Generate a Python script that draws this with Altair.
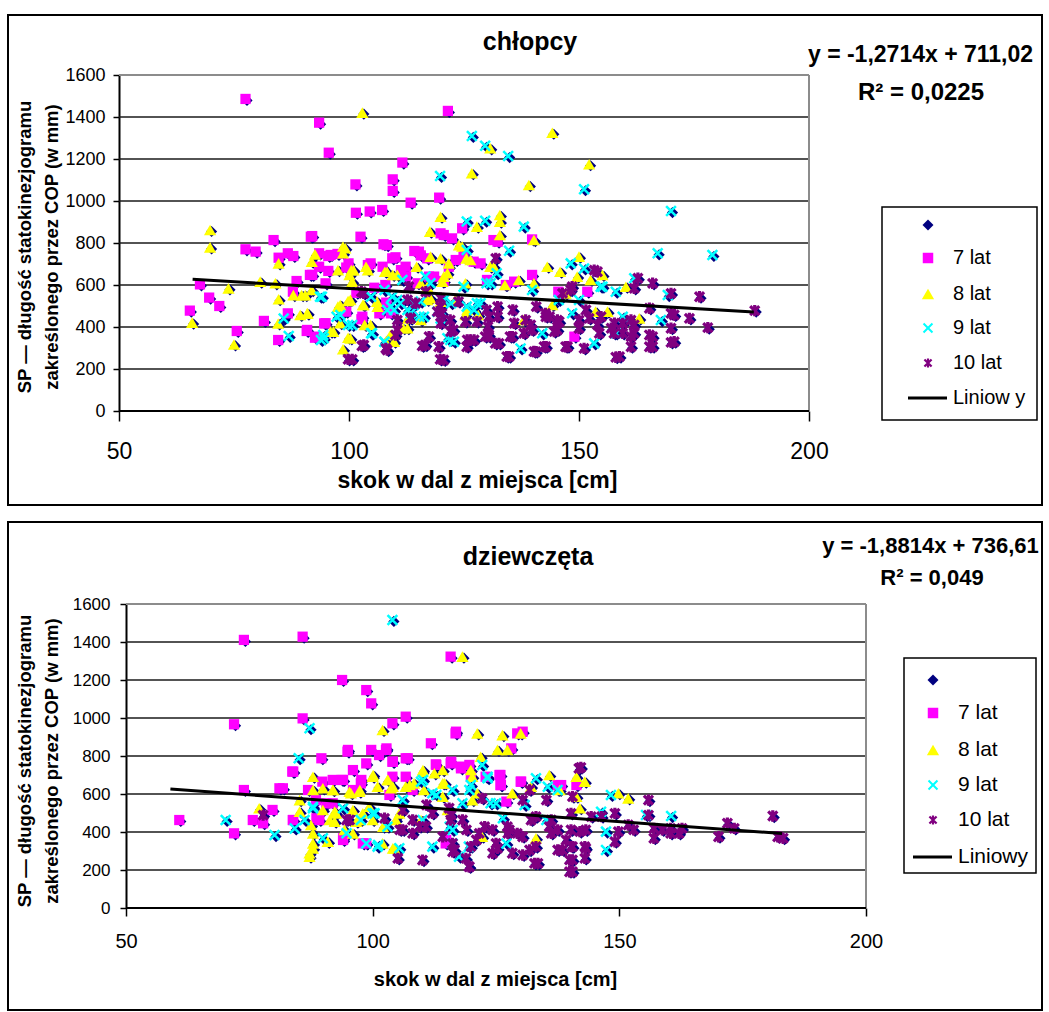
import altair as alt
import pandas as pd

FONT = "Liberation Sans"
NAVY = "#000080"
MAG = "#FF00FF"
YEL = "#FFFF00"
CYAN = "#00FFFF"
PURP = "#800080"
X_PATH = "M-1,-1L1,1M-1,1L1,-1"
AST_PATH = "M0,-1L0,1M-0.8,-0.8L0.8,0.8M-0.8,0.8L0.8,-0.8"

X_TICKS = [50, 100, 150, 200]
Y_TICKS = [0, 200, 400, 600, 800, 1000, 1200, 1400, 1600]
SERIES = ["7 lat", "8 lat", "9 lat", "10 lat"]

# ---------------- chłopcy ----------------
chl_7 = [(77.5,1486),(93.5,1373),(95.6,1230),(121.5,1429),(101.4,1079),(109.5,1103),(109.5,1048),(111.6,1183),(113.4,992),(119.6,1016),(101.5,944),(104.5,950),(107.2,957),(102.5,830),(91.7,830),(83.6,814),(77.5,770),(79.7,759),(84.7,730),(86.7,751),(87.9,738),(107.5,794),(109.4,727),(114.2,762),(115.6,741),(93.5,751),(95.5,738),(65.4,478),(67.6,603),(69.6,540),(71.8,500),(75.6,381),(81.5,429),(84.6,338),(86.7,465),(90.8,381),(92.6,349),(94.6,417),(91.5,648),(93.5,687),(88.6,619),(87.8,568),(95.5,667),(97.5,748),(99.4,683),(101.6,563),(104.1,695),(102.7,437),(105.5,587),(107.3,687),(108.1,516),(111.3,671),(112.4,640),(114.9,608),(117.0,727),(117.4,640),(120.6,619),(119.9,846),(122.4,822),(124.6,870),(124.9,735),(121.7,687),(127.1,711),(131.4,814),(130.0,624),(99.4,473),(106.6,465),(109.1,465),(139.8,817),(139.8,648),(145.5,568),(151.8,568),(149.0,354),(132.3,806),(134.1,600),(135.9,616),(92.0,833),(108.2,790),(115.2,759),(120.6,838),(96.0,743),(110.1,732),(99.9,703),(104.7,703),(112.3,687),(123.2,719),(128.6,703),(92.0,648),(94.9,608),(118.5,640),(107.9,600),(94.9,418),(90.9,386),(102.9,449),(92.7,354)]
chl_8 = [(69.8,862),(69.8,779),(75.0,317),(65.9,421),(73.8,584),(80.7,616),(84.0,608),(84.7,703),(84.7,532),(84.6,417),(87.9,552),(89.7,552),(89.4,457),(91.0,465),(91.9,576),(92.6,746),(91.9,711),(98.7,783),(98.7,751),(97.6,671),(97.6,497),(96.6,378),(98.7,294),(99.8,349),(99.8,524),(100.1,648),(100.5,671),(102.9,1421),(103.0,505),(103.7,687),(104.1,671),(103.4,410),(106.2,497),(107.8,663),(109.5,648),(108.0,330),(109.8,330),(111.8,394),(114.7,687),(115.6,608),(117.6,854),(117.7,735),(117.7,537),(119.9,925),(119.9,727),(120.6,640),(121.7,703),(123.9,790),(125.5,727),(126.7,1132),(127.8,878),(130.7,1251),(132.8,933),(132.8,902),(132.8,838),(125.3,608),(130.7,687),(133.9,600),(123.1,529),(119.9,521),(125.3,457),(128.1,457),(115.6,433),(112.8,441),(144.2,1325),(152.2,1175),(139.1,1076),(140.2,814),(150.0,735),(143.1,687),(145.9,663),(140.2,608),(147.1,560),(144.2,505),(160.2,592),(163.1,441),(153.6,473),(156.2,473),(149.6,640),(155.1,648),(152.5,624),(136.9,624),(138.0,433),(99.2,775),(124.6,783),(126.4,719),(101.0,671),(108.3,663),(110.5,648),(121.4,656),(131.5,687),(117.0,592),(120.3,616),(100.7,616),(90.5,552),(98.1,505),(100.3,529),(103.2,505),(106.1,521),(90.9,465),(98.1,418),(104.7,410),(112.7,394),(100.3,346),(109.0,362),(96.0,378),(117.0,529),(125.7,481)]
chl_9 = [(126.7,1310),(129.6,1263),(134.6,1214),(119.8,1119),(125.6,902),(129.6,906),(134.8,763),(86.9,357),(85.8,441),(93.9,338),(94.4,362),(93.7,544),(97.3,449),(99.8,410),(104.8,370),(107.7,330),(109.1,497),(110.5,529),(111.6,624),(112.7,481),(114.1,505),(116.3,449),(116.6,640),(117.7,608),(120.6,529),(122.0,338),(124.9,592),(125.6,767),(125.6,497),(127.8,513),(129.9,608),(132.1,656),(104.8,544),(107.7,576),(109.8,481),(115.6,521),(119.2,473),(119.9,441),(170.0,952),(151.1,1056),(138.0,878),(167.1,751),(179.0,743),(148.2,703),(151.1,679),(162.0,632),(169.3,552),(158.0,568),(154.7,592),(167.8,433),(158.0,370),(153.3,322),(148.5,465),(142.0,370),(137.3,298),(139.8,576),(159.5,449),(145.6,529),(150.0,529),(155.1,592),(94.1,544),(109.4,544),(111.2,513),(108.3,481),(113.4,465),(115.3,449),(122.2,513),(127.2,481),(128.6,513),(98.1,457),(100.7,410),(105.0,370),(94.5,346),(107.7,330),(121.4,346),(122.8,330),(130.8,608)]
chl_10 = [(99.8,246),(102.8,310),(108.0,298),(115.9,310),(119.8,246),(125.6,306),(126.4,338),(129.6,354),(131.8,322),(134.3,259),(135.0,354),(117.4,354),(120.2,465),(119.5,306),(122.7,386),(125.3,425),(127.8,425),(130.2,402),(132.3,449),(132.3,497),(129.9,481),(102.7,568),(110.5,386),(110.5,433),(112.7,529),(113.4,441),(116.7,568),(119.9,497),(122.0,433),(123.8,521),(131.9,727),(135.6,481),(158.0,256),(170.0,327),(178.0,397),(176.2,544),(174.0,441),(170.0,560),(170.0,465),(170.0,394),(166.0,608),(165.3,489),(165.3,362),(165.3,306),(161.3,306),(161.3,354),(162.0,410),(162.0,584),(188.2,478),(147.1,306),(151.1,298),(140.2,283),(142.4,306),(145.3,386),(145.3,433),(142.7,465),(139.8,386),(138.4,433),(150.0,394),(150.0,433),(151.5,481),(154.0,410),(154.4,370),(157.0,394),(159.5,417),(153.3,671),(148.5,592),(146.4,560),(152.2,441),(157.6,370),(159.5,370),(143.6,449),(140.7,497),(138.0,370),(135.5,354),(132.6,322),(134.8,259),(140.6,282),(142.8,306),(147.5,306),(145.7,425),(142.8,449),(139.5,410),(130.4,354),(158.8,259),(166.0,354),(166.0,306),(170.7,330),(170.7,457),(162.8,632),(154.0,663),(148.2,576),(157.7,418),(161.3,433),(162.0,370),(154.8,449),(144.6,378),(135.9,418),(103.2,560),(113.0,592),(114.5,513),(119.2,473),(119.9,418),(122.1,378),(125.7,338),(127.2,338),(130.4,362),(130.4,449),(116.6,314),(120.6,243),(110.1,362),(108.3,290),(103.2,314),(100.7,246),(113.4,441),(119.9,537)]
chl_trend_x = [66, 188]
chl_trend_y = [627, 472]

# ---------------- dziewczęta ----------------
dz_7 = [(60.8,463),(71.9,967),(71.9,393),(73.9,1411),(73.9,621),(75.7,463),(77.8,446),(79.7,516),(81.1,630),(83.7,718),(85.8,1428),(85.8,998),(83.8,463),(86.9,621),(89.6,788),(89.8,665),(93.8,1200),(94.9,823),(96.0,726),(94.0,674),(94.0,367),(98.7,1147),(99.7,1077),(98.7,761),(99.7,832),(101.3,805),(102.7,832),(104.0,972),(104.0,770),(106.7,1007),(106.7,788),(106.7,691),(98.7,340),(97.6,656),(91.9,551),(89.2,463),(111.8,867),(112.8,756),(115.8,1323),(116.8,919),(115.8,761),(117.9,735),(114.8,340),(108.1,621),(104.0,691),(96.0,621),(91.9,674),(88.5,568),(119.9,691),(122.9,691),(125.9,700),(125.9,647),(129.3,919),(130.0,665),(137.5,647),(141.3,647),(116.9,928),(130.4,928),(128.1,840),(115.9,765),(117.9,744),(119.6,753),(125.7,700),(130.1,665),(138.2,647),(126.0,647),(127.1,560),(114.9,358),(95.0,832),(102.8,840),(107.1,788),(104.1,770),(83.9,718),(112.9,753),(115.9,770),(93.7,674),(97.7,674),(81.8,630),(90.6,551),(88.6,472),(83.9,463),(94.0,358),(98.0,340),(103.4,595)]
dz_8 = [(77.0,525),(87.2,270),(87.9,314),(87.9,393),(87.5,437),(87.9,691),(85.2,507),(85.2,568),(87.9,621),(89.9,630),(89.9,516),(90.9,349),(91.9,621),(92.3,507),(92.3,454),(94.3,411),(95.6,604),(96.0,516),(97.3,612),(97.3,463),(100.0,691),(101.0,639),(99.3,533),(100.0,463),(102.0,937),(103.0,674),(103.7,630),(102.0,340),(104.4,314),(105.4,498),(106.7,639),(108.4,656),(110.1,718),(110.4,621),(112.5,709),(114.2,656),(114.2,586),(118.2,1323),(119.9,726),(120.2,691),(121.2,919),(121.9,796),(121.2,604),(125.3,832),(126.3,910),(127.3,832),(128.3,604),(109.8,463),(104.7,463),(120.2,568),(122.2,375),(115.2,516),(96.0,393),(130.0,919),(135.8,700),(141.3,691),(143.0,665),(132.1,639),(137.9,621),(141.3,586),(142.0,525),(149.8,604),(151.8,577),(133.1,367),(87.2,288),(87.9,340),(90.9,349),(95.3,612),(97.4,621),(100.1,700),(103.1,674),(104.1,639),(107.5,647),(110.2,726),(114.2,726),(114.6,656),(92.0,621),(98.0,498),(91.3,463),(92.6,498),(96.7,454),(102.1,428),(104.1,314)]
dz_9 = [(70.2,463),(85.0,788),(87.2,946),(104.0,1516),(80.1,384),(86.2,463),(87.9,525),(89.9,367),(94.0,525),(94.7,393),(98.7,340),(100.0,498),(101.0,323),(103.0,428),(105.4,314),(106.1,568),(109.8,665),(110.1,463),(112.1,604),(112.1,323),(116.2,621),(116.2,411),(118.2,551),(119.9,647),(122.2,753),(123.3,691),(123.9,551),(119.5,323),(117.5,270),(116.2,340),(97.6,463),(123.3,683),(133.1,683),(135.5,638),(137.5,621),(148.3,595),(130.8,542),(119.6,621),(125.0,551),(115.6,428),(127.1,340),(147.3,305),(135.2,463),(126.4,472),(147.3,402),(155.4,489),(160.5,484),(146.3,507),(87.9,533),(84.2,419),(101.1,332),(100.4,498),(110.2,674),(112.9,595)]
dz_10 = [(77.8,489),(94.7,463),(105.1,261),(110.1,252),(106.1,411),(108.1,463),(110.8,428),(112.1,498),(115.5,525),(115.8,463),(116.2,296),(118.9,261),(119.5,218),(119.9,323),(121.6,393),(122.2,577),(124.3,411),(125.3,314),(127.3,428),(128.3,288),(129.3,393),(114.2,375),(118.2,463),(108.1,393),(142.2,740),(133.1,481),(140.5,586),(140.2,498),(140.2,411),(140.5,323),(140.5,253),(140.5,191),(143.2,314),(143.2,411),(138.5,305),(133.5,235),(133.1,323),(130.4,279),(130.4,375),(127.7,411),(124.3,288),(125.0,340),(119.6,217),(116.6,305),(121.0,358),(131.8,621),(130.4,568),(135.2,568),(135.8,428),(139.2,358),(127.4,393),(122.7,428),(119.0,411),(141.8,735),(155.9,568),(181.1,484),(182.1,375),(183.2,367),(170.1,375),(171.9,446),(173.3,419),(162.1,393),(162.7,419),(160.4,393),(160.4,419),(158.7,411),(157.0,367),(157.0,419),(152.9,411),(151.8,437),(149.8,402),(149.1,349),(149.1,498),(155.9,489),(146.4,481),(144.3,481),(143.0,323),(143.0,261),(139.9,253),(139.9,191),(142.0,402),(140.3,323),(137.5,305),(137.5,411),(136.2,393),(132.8,235),(131.8,305),(132.1,463),(136.2,463),(105.5,411),(109.5,428),(95.3,463),(102.4,472),(106.1,516),(110.9,542),(115.9,489),(116.2,340)]
dz_trend_x = [59, 183]
dz_trend_y = [626, 392]

ONE = alt.Data(values=[{"k": 1}])

STYLES = {
    "7 lat": dict(shape="square", filled=True, color=MAG, size=105, opacity=1),
    "8 lat": dict(shape="triangle-up", filled=True, color=YEL, size=150, opacity=1),
    "9 lat": dict(shape=X_PATH, filled=False, color=CYAN, size=95, strokeWidth=2.5, opacity=1),
    "10 lat": dict(shape=AST_PATH, filled=False, color=PURP, size=130, strokeWidth=3.2, opacity=1),
}
LEG_STYLES = [
    dict(shape="diamond", filled=True, color=NAVY, size=120, opacity=1),
    dict(shape="square", filled=True, color=MAG, size=110, opacity=1),
    dict(shape="triangle-up", filled=True, color=YEL, size=150, opacity=1),
    dict(shape=X_PATH, filled=False, color=CYAN, size=80, strokeWidth=2, opacity=1),
    dict(shape=AST_PATH, filled=False, color=PURP, size=80, strokeWidth=2.2, opacity=1),
]


def panel(p):
    ox, oy = p["ox"], p["oy"]

    def txt(s, x, y, size, bold=False, align="center", baseline="alphabetic", angle=0):
        mk = dict(text=s, align=align, baseline=baseline, fontSize=size, font=FONT, color="black")
        if bold:
            mk["fontWeight"] = "bold"
        if angle:
            mk["angle"] = angle
        return alt.Chart(ONE).mark_text(**mk).encode(x=alt.value(x - ox), y=alt.value(y - oy))

    def box(x1, x2, y1, y2, sw):
        return alt.Chart(ONE).mark_rect(fillOpacity=0, stroke="black", strokeWidth=sw).encode(
            x=alt.value(x1 - ox), x2=alt.value(x2 - ox), y=alt.value(y1 - oy), y2=alt.value(y2 - oy))

    rows = []
    for name, pts in zip(SERIES, p["series"]):
        for x, y in pts:
            rows.append({"x": x, "y": y, "g": name})
    df = pd.DataFrame(rows)
    trend = pd.DataFrame({"x": p["tx"], "y": p["ty"]})
    W = p["right"] - ox
    H = p["H"]

    xaxis = alt.Axis(values=X_TICKS, title=None, grid=False, labelFont=FONT, format="d",
                     labelFontSize=p["xfs"], labelColor="black", labelPadding=p["xpad"],
                     tickSize=p["xtick"], tickColor="black", tickWidth=1.5,
                     domain=False, labelFlush=False, labelOverlap=False)
    yaxis = alt.Axis(values=Y_TICKS, title=None, grid=False, offset=ox - p["left"],
                     labelFont=FONT, labelFontSize=p["yfs"], labelColor="black", format="d",
                     labelPadding=p["ypad"], tickSize=6, tickColor="black", tickWidth=1.5,
                     domainColor="black", domainWidth=2, labelFlush=False, labelOverlap=False)
    xscale = alt.Scale(domain=[50, 200], nice=False, zero=False, range=[p["left"] - ox, W])
    yscale = alt.Scale(domain=[0, 1600], nice=False, zero=True)
    xenc = alt.X("x:Q", scale=xscale, axis=xaxis)
    yenc = alt.Y("y:Q", scale=yscale, axis=yaxis)

    grid_df = pd.DataFrame({"y": Y_TICKS[1:-1], "x": [X_TICKS[0]] * 7, "x2": [X_TICKS[-1]] * 7})
    zero_df = pd.DataFrame({"y": [Y_TICKS[0]], "x": [X_TICKS[0]], "x2": [X_TICKS[-1]]})
    top_df = pd.DataFrame({"y": [Y_TICKS[-1]], "x": [X_TICKS[0]], "x2": [X_TICKS[-1]]})
    side_df = pd.DataFrame({"x": [X_TICKS[-1]], "y": [Y_TICKS[0]], "y2": [Y_TICKS[-1]]})

    layers = [box(*p["border"], 2)]
    layers.append(alt.Chart(grid_df).mark_rule(color="#1a1a1a", strokeWidth=1.5)
                  .encode(x=xenc, x2="x2:Q", y=yenc))
    layers.append(alt.Chart(top_df).mark_rule(color="#8c8c8c", strokeWidth=2)
                  .encode(x=xenc, x2="x2:Q", y=yenc))
    layers.append(alt.Chart(side_df).mark_rule(color="#8c8c8c", strokeWidth=2)
                  .encode(x=xenc, y=yenc, y2="y2:Q"))
    layers.append(alt.Chart(zero_df).mark_rule(color="black", strokeWidth=2)
                  .encode(x=xenc, x2="x2:Q", y=yenc))

    base = alt.Chart(df)
    layers.append(base.mark_point(shape="diamond", filled=True, color=NAVY, size=125, opacity=1,
                                  xOffset=1.5, yOffset=1.5).encode(x=xenc, y=yenc))
    for name in SERIES:
        layers.append(base.transform_filter(alt.datum.g == name)
                      .mark_point(**STYLES[name]).encode(x=xenc, y=yenc))
    layers.append(alt.Chart(trend).mark_line(color="black", strokeWidth=3).encode(x=xenc, y=yenc))

    tx, ty, tfs = p["title"]
    layers.append(txt(p["title_text"], tx, ty, tfs, bold=True))
    ex, ey, efs = p["eq"]
    layers.append(txt(p["eq_text"], ex, ey, efs, bold=True))
    rx, ry, rfs = p["r2"]
    layers.append(txt(p["r2_text"], rx, ry, rfs, bold=True))
    (l1x, l1y), (l2x, l2y) = p["ytitle"]
    layers.append(txt("SP — długość statokinezjogramu", l1x, l1y, 18.5, bold=True, baseline="middle", angle=270))
    layers.append(txt("zakreślonego przez COP (w mm)", l2x, l2y, 18.5, bold=True, baseline="middle", angle=270))
    axx, axy, axfs = p["xtitle"]
    layers.append(txt("skok w dal z miejsca [cm]", axx, axy, axfs, bold=True))

    layers.append(box(*p["legbox"], 1.5))
    sx, lx, (lx1, lx2) = p["leg_sym_x"], p["leg_lab_x"], p["leg_line"]
    for i, yy in enumerate(p["leg_y"]):
        if i < 5:
            layers.append(alt.Chart(ONE).mark_point(**LEG_STYLES[i]).encode(
                x=alt.value(sx - ox), y=alt.value(yy - oy)))
        else:
            layers.append(alt.Chart(ONE).mark_rule(color="black", strokeWidth=3).encode(
                x=alt.value(lx1 - ox), x2=alt.value(lx2 - ox), y=alt.value(yy - oy)))
        lab = p["leg_labels"][i]
        if lab:
            layers.append(txt(lab, lx, yy, p["leg_fs"], align="left", baseline="middle"))

    return alt.layer(*layers).properties(width=W, height=H)


# all positions below are page pixels
top = panel(dict(
    series=[chl_7, chl_8, chl_9, chl_10], tx=chl_trend_x, ty=chl_trend_y,
    ox=126, oy=75, left=119, right=809, H=336,
    xfs=23, xpad=19, xtick=10, yfs=18, ypad=8,
    border=(8, 1042, 15, 505),
    title=(530, 50, 25), title_text="chłopcy",
    eq=(920.5, 62, 23), eq_text="y = -1,2714x + 711,02",
    r2=(921, 100, 24), r2_text="R² = 0,0225",
    ytitle=((25, 247), (52, 247)),
    xtitle=(477.5, 488, 23),
    legbox=(882, 1037, 207, 420),
    leg_sym_x=928, leg_lab_x=953, leg_line=(908, 947),
    leg_y=[225, 258, 294, 328, 363, 398],
    leg_labels=["", "7 lat", "8 lat", "9 lat", "10 lat", "Liniow y"], leg_fs=20,
))

bottom = panel(dict(
    series=[dz_7, dz_8, dz_9, dz_10], tx=dz_trend_x, ty=dz_trend_y,
    ox=126, oy=604, left=126, right=866, H=304,
    xfs=20, xpad=15, xtick=8, yfs=17, ypad=10,
    border=(8, 1042, 522, 1010),
    title=(528, 565, 25), title_text="dziewczęta",
    eq=(930.5, 553, 22), eq_text="y = -1,8814x + 736,61",
    r2=(932, 585, 22), r2_text="R² = 0,049",
    ytitle=((25, 761), (52, 761)),
    xtitle=(495.5, 986, 20),
    legbox=(904, 1036, 658, 873),
    leg_sym_x=933, leg_lab_x=958, leg_line=(913, 952),
    leg_y=[680, 713, 750, 785, 820, 857],
    leg_labels=["", "7 lat", "8 lat", "9 lat", "10 lat", "Liniowy"], leg_fs=21,
))

chart = alt.concat(top, bottom, columns=1, spacing=15, align="none", bounds="full").properties(
    padding={"left": 7, "top": 14, "right": 0, "bottom": 0}
).configure_view(strokeWidth=0)

chart.save("out.html", embed_options={"renderer": "svg", "actions": False})
